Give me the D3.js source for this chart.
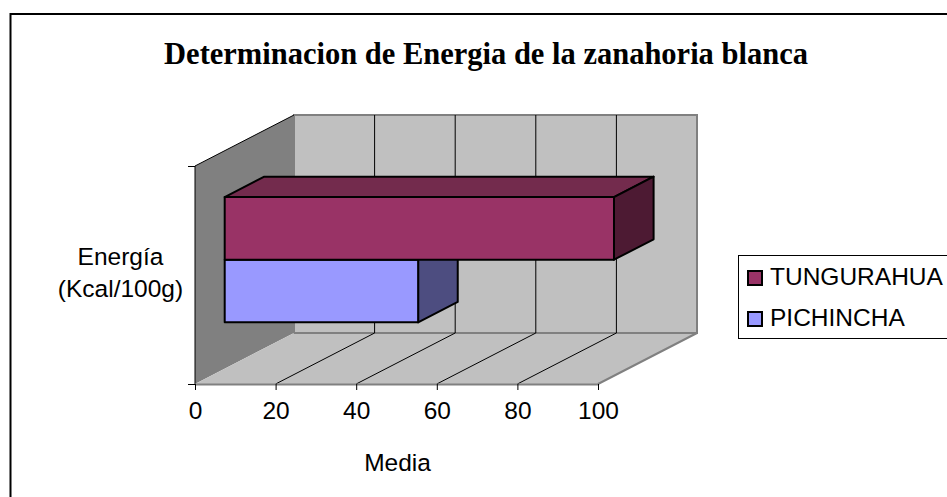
<!DOCTYPE html>
<html>
<head>
<meta charset="utf-8">
<script src="https://cdn.jsdelivr.net/npm/d3@7/dist/d3.min.js"></script>
<style>
html,body{margin:0;padding:0;background:#fff;overflow:hidden}
svg{display:block}
text{font-family:"Liberation Sans",Arial,sans-serif;fill:#000}
</style>
</head>
<body>
<svg id="chart" width="947" height="497"></svg>
<script>
const seriesNames = ["PICHINCHA", "TUNGURAHUA"];
const seriesValues = [48, 96.6];
const legendOrder = ["TUNGURAHUA", "PICHINCHA"];
const valueTicks = [0, 20, 40, 60, 80, 100];
const chartTitle = "Determinacion de Energia de la zanahoria blanca";
const valueAxisTitle = "Media";
const categoryAxisTitle = ["Energía", "(Kcal/100g)"];
const frontColors = ["#9999FF", "#993366"];
const topColors = ["#7373BF", "#732B4D"];
const sideColors = ["#4D4D80", "#4D1A33"];

const labelSize = "24.5px";
const svg = d3.select("#chart");

// Oblique projection: value runs along x, series stack vertically, depth recedes up and right.
const x = d3.scaleLinear().domain([0, 100]).range([195, 598]);
const y = d3.scaleLinear().domain([0, 1]).range([384, 166]);
const depthX = d3.scaleLinear().domain([0, 1]).range([0, 99]);
const depthY = d3.scaleLinear().domain([0, 1]).range([0, -51]);
const project = (v, h, d) => [x(v) + depthX(d), y(h) + depthY(d)];
const poly = pts => "M" + pts.map(p => p.join(",")).join("L") + "Z";

// Outer chart frame, running past the right and bottom of the page
svg.append("rect").attr("x", 10.5).attr("y", 14).attr("width", 960).attr("height", 510)
  .attr("fill", "#fff").attr("stroke", "#000").attr("stroke-width", 2);

svg.append("text").attr("x", 486).attr("y", 63.5).attr("text-anchor", "middle")
  .style("font-family", '"Liberation Serif","Times New Roman",serif')
  .style("font-weight", "bold").style("font-size", "30.5px")
  .text(chartTitle);

// Walls and floor
const walls = svg.append("g");
walls.append("path")
  .attr("d", poly([project(0,0,0), project(0,1,0), project(0,1,1), project(0,0,1)]))
  .attr("fill", "#808080");
walls.append("path")
  .attr("d", poly([project(0,0,1), project(0,1,1), project(100,1,1), project(100,0,1)]))
  .attr("fill", "#C0C0C0").attr("stroke", "#808080").attr("stroke-width", 2);
walls.append("path")
  .attr("d", poly([project(0,0,0), project(100,0,0), project(100,0,1), project(0,0,1)]))
  .attr("fill", "#C0C0C0");
walls.append("path")
  .attr("d", d3.line()([project(100,0,0), project(100,0,1), project(0,0,1)]))
  .attr("fill", "none").attr("stroke", "#808080").attr("stroke-width", 2);
walls.append("path")
  .attr("d", d3.line()([project(0,1,1), project(0,1,0), project(0,0,0)]))
  .attr("fill", "none").attr("stroke", "#000").attr("stroke-width", 1);

// Gridlines across the floor and up the back wall
svg.append("g").attr("fill", "none").attr("stroke", "#000").attr("stroke-width", 1)
  .selectAll("path").data(valueTicks.slice(1, -1)).join("path")
  .attr("d", t => d3.line()([project(t,0,0), project(t,0,1), project(t,1,1)]));

// Bars, sitting between 0.3 and 0.7 of the depth
const band = d3.scaleBand().domain(seriesNames).range([0, 1]).paddingInner(0).paddingOuter(0.74);
const d0 = 0.3, d1 = 0.7;
const marks = svg.append("g").attr("stroke", "#000").attr("stroke-width", 2).attr("stroke-linejoin", "round");
seriesNames.forEach((name, i) => {
  const v = seriesValues[i];
  const lo = band(name), hi = lo + band.bandwidth();
  if (i === seriesNames.length - 1) {
    marks.append("path").attr("fill", topColors[i])
      .attr("d", poly([project(0,hi,d0), project(v,hi,d0), project(v,hi,d1), project(0,hi,d1)]));
  }
  marks.append("path").attr("fill", sideColors[i])
    .attr("d", poly([project(v,lo,d0), project(v,hi,d0), project(v,hi,d1), project(v,lo,d1)]));
  marks.append("path").attr("fill", frontColors[i])
    .attr("d", poly([project(0,lo,d0), project(v,lo,d0), project(v,hi,d0), project(0,hi,d0)]));
});

// Value axis along the front edge of the floor
const axisG = svg.append("g").attr("transform", "translate(0,384)")
  .call(d3.axisBottom(x).tickValues(valueTicks).tickSize(6).tickPadding(11.5).tickSizeOuter(0));
axisG.select(".domain").attr("stroke", "#808080").attr("stroke-width", 2);
axisG.selectAll(".tick line").attr("stroke", "#000");
axisG.selectAll(".tick text").style("font-size", labelSize).style("font-family", '"Liberation Sans",Arial,sans-serif');

// Category axis ticks on the front of the side wall
const catAxis = svg.append("g").attr("transform", "translate(195,0)")
  .call(d3.axisLeft(y).tickValues([0, 1]).tickSize(7).tickFormat(""));
catAxis.select(".domain").remove();
catAxis.selectAll(".tick line").attr("stroke", "#000");

svg.selectAll(".catTitle").data(categoryAxisTitle).join("text")
  .attr("x", 120.5).attr("y", (d, i) => 265 + i * 32).attr("text-anchor", "middle")
  .style("font-size", labelSize).text(d => d);
svg.append("text").attr("x", 397.5).attr("y", 471).attr("text-anchor", "middle")
  .style("font-size", labelSize).text(valueAxisTitle);

// Legend, clipped by the right side of the page
const legend = svg.append("g");
legend.append("rect").attr("x", 738.5).attr("y", 255.5).attr("width", 240).attr("height", 83)
  .attr("fill", "#fff").attr("stroke", "#000").attr("stroke-width", 1);
legendOrder.forEach((name, i) => {
  const k = seriesNames.indexOf(name);
  const top = 271 + i * 41;
  legend.append("rect").attr("x", 748).attr("y", top).attr("width", 14).attr("height", 14)
    .attr("fill", frontColors[k]).attr("stroke", "#000").attr("stroke-width", 2);
  legend.append("text").attr("x", 770).attr("y", top + 14).style("font-size", labelSize).text(name);
});
</script>
</body>
</html>
